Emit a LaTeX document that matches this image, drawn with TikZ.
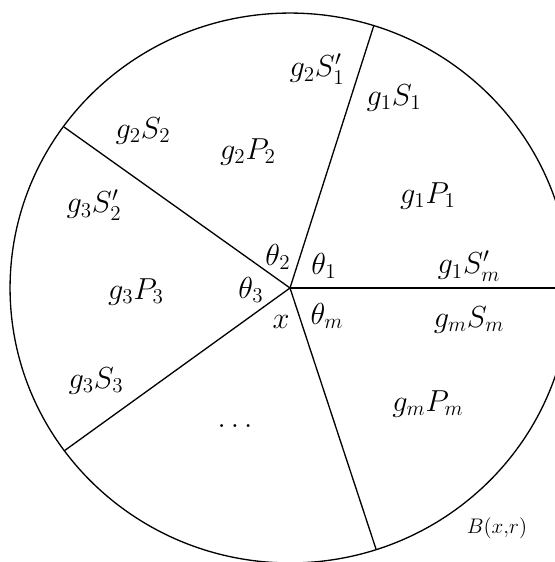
\documentclass[tikz,border=0pt]{standalone}
\usepackage{tikz}

\begin{document}
\begin{tikzpicture}[
      x=0.02cm, y=-0.02cm,
      every node/.style={font=\fontsize{17}{20}\selectfont, inner sep=1pt},
      rim/.style={line width=0.75pt},
      ray/.style={line width=0.75pt},
      small/.style={font=\fontsize{12.5}{15}\selectfont}
    ]
    \useasboundingbox (0,0) rectangle (555,562);
    \clip (0,0) rectangle (555,562);

    % PUNTOS
    \coordinate (x) at (290,288);
    \coordinate (e1) at (374,25);
    \coordinate (e2) at (64,127);
    \coordinate (e3) at (64,451);
    \coordinate (em) at (376,549);
    \coordinate (e0) at (575,288);

    % BOLA
    \draw[rim] (x) ellipse [x radius=5.6cm, y radius=5.5cm];

    % RAYOS
    \draw[ray] (x) -- (e0);
    \draw[ray] (x) -- (e1);
    \draw[ray] (x) -- (e2);
    \draw[ray] (x) -- (e3);
    \draw[ray] (x) -- (em);

    % ETIQUETAS
    \node (g2S1) at (317,69) {$g_2S'_1$};
    \node (g1S1) at (394,98) {$g_1S_1$};
    \node (g2S2) at (143,131) {$g_2S_2$};
    \node (g2P2) at (248,152) {$g_2P_2$};
    \node (g1P1) at (428,196) {$g_1P_1$};
    \node (g3S2) at (94,205) {$g_3S'_2$};
    \node (th2) at (278,257) {$\theta_2$};
    \node (th1) at (324,266) {$\theta_1$};
    \node (g1Sm) at (469,266) {$g_1S'_m$};
    \node (g3P3) at (136,292) {$g_3P_3$};
    \node (th3) at (251,290) {$\theta_3$};
    \node (xl) at (281,322) {$x$};
    \node (thm) at (327,316) {$\theta_m$};
    \node (gmSm) at (469,320) {$g_mS_m$};
    \node (g3S3) at (96,381) {$g_3S_3$};
    \node (gmPm) at (428,404) {$g_mP_m$};
    \node (dots) at (235,426) {$\ldots$};
    \node[small] (ball) at (497,528) {$B(x{,}r)$};
  \end{tikzpicture}
\end{document}
